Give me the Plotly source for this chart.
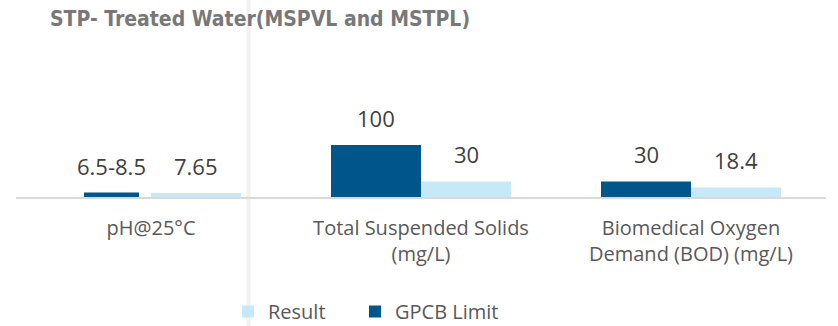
import plotly.graph_objects as go

# ---- data ----
categories = ["pH@25°C", "Total Suspended Solids<br>(mg/L)", "Biomedical Oxygen<br>Demand (BOD) (mg/L)"]
gpcb_limit = [8.5, 100, 30]
gpcb_labels = ["6.5-8.5", "100", "30"]
result = [7.65, 30, 18.4]
result_labels = ["7.65", "30", "18.4"]

# ---- styling ----
DARK = "#00558A"
LIGHT = "#C7E8F8"
W, H = 838, 326
ML, MR, MT, MB = 16, 12, 60, 129
BAND_PX = (W - ML - MR) / len(categories)   # pixels per category
BAR = 1 / 3                                  # bar width in category units
PX_PER_UNIT = 0.52

gpcb_width = [55 / BAND_PX, BAR, BAR]
gpcb_offset = [-67 / BAND_PX, -BAR, -BAR]
res_width = [BAR] * 3
res_offset = [0.0] * 3

x_idx = list(range(len(categories)))

fig = go.Figure()
fig.add_trace(go.Bar(
    x=x_idx, y=gpcb_limit, name="GPCB Limit", legend="legend2",
    marker=dict(color=DARK, line=dict(width=0)),
    width=gpcb_width, offset=gpcb_offset,
))
fig.add_trace(go.Bar(
    x=x_idx, y=result, name="Result", legend="legend",
    marker=dict(color=LIGHT, line=dict(width=0)),
    width=res_width, offset=res_offset,
))

# value labels above each bar
annotations = []
for vals, labels, widths, offsets in ((gpcb_limit, gpcb_labels, gpcb_width, gpcb_offset),
                                      (result, result_labels, res_width, res_offset)):
    for i, (v, t, w, o) in enumerate(zip(vals, labels, widths, offsets)):
        annotations.append(dict(
            x=i + o + w / 2, y=v, xref="x", yref="y", text=t, showarrow=False,
            yanchor="bottom", yshift=10,
            font=dict(family="Open Sans", size=22, color="#404040"),
        ))

legend_style = dict(
    orientation="h", xref="container", yref="container",
    xanchor="left", y=1 - 292 / H, yanchor="top",
    font=dict(family="Open Sans", size=20, color="#595959"),
    itemclick=False, bgcolor="rgba(0,0,0,0)",
)

plot_w = W - ML - MR
plot_h = H - MT - MB
fig.update_layout(
    width=W, height=H,
    margin=dict(l=ML, r=MR, t=MT, b=MB, pad=0, autoexpand=False),
    paper_bgcolor="white", plot_bgcolor="white",
    barmode="overlay",
    title=dict(
        text="<b>STP- Treated Water(MSPVL and MSTPL)</b>",
        xref="container", yref="container",
        x=260 / W, xanchor="center", y=1 - 19 / H, yanchor="middle",
        font=dict(family="DejaVu Sans Condensed, Liberation Sans Narrow, Roboto, sans-serif",
                  size=21, color="#787878"),
    ),
    showlegend=True,
    legend=dict(legend_style, x=228 / W),
    legend2=dict(legend_style, x=355 / W),
    xaxis=dict(
        range=[-0.5, len(categories) - 0.5],
        tickmode="array", tickvals=x_idx, ticktext=categories,
        showline=True, linecolor="#D9D9D9", linewidth=2,
        ticks="outside", ticklen=12, tickcolor="rgba(0,0,0,0)",
        tickfont=dict(family="Open Sans", size=20, color="#595959"),
        showgrid=False, zeroline=False, automargin=False,
    ),
    yaxis=dict(
        range=[0, plot_h / PX_PER_UNIT],
        visible=False, showgrid=False, zeroline=False, automargin=False,
    ),
    annotations=annotations,
    shapes=[dict(
        type="line", xref="paper", yref="paper",
        x0=(248.5 - ML) / plot_w, x1=(248.5 - ML) / plot_w,
        y0=-MB / plot_h, y1=1 + MT / plot_h,
        line=dict(color="#F1F1F1", width=4), layer="below",
    )],
)

fig.write_html("out.html")
